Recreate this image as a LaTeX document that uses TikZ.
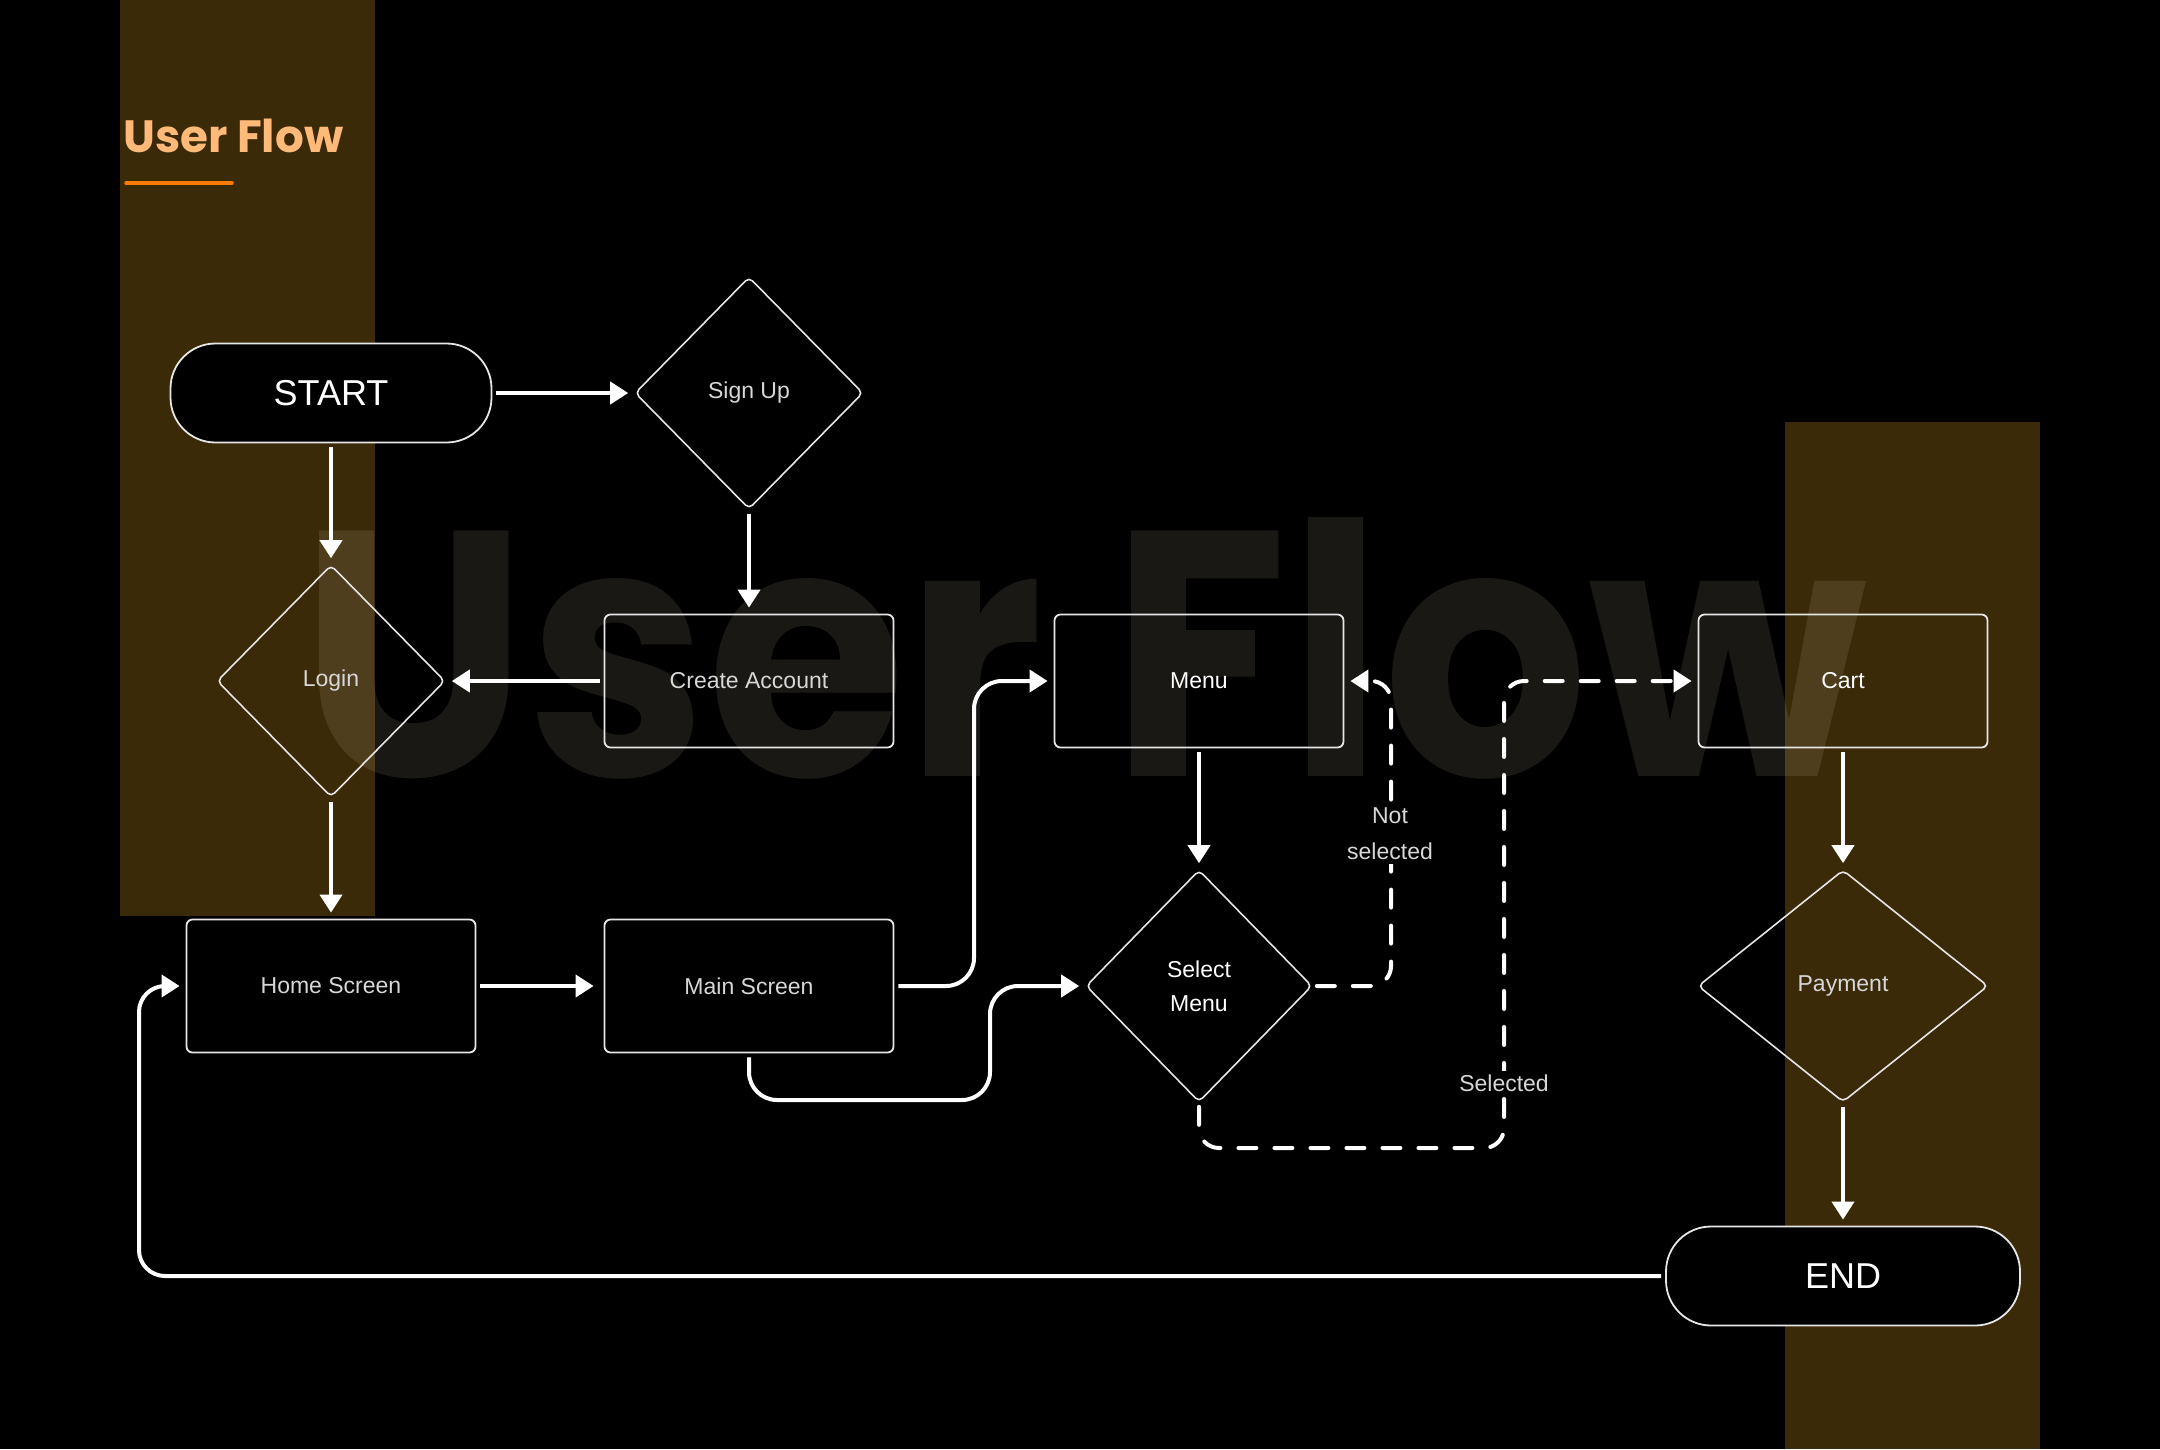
\documentclass[tikz,border=0pt]{standalone}
\usepackage{fontspec}
\setmainfont{Liberation Sans}
\newfontfamily\popfont{Poppins}
\usetikzlibrary{arrows.meta,shapes.geometric,calc}
\definecolor{band}{RGB}{58,42,8}
\definecolor{ttl}{RGB}{255,185,120}
\definecolor{uline}{RGB}{255,122,0}
\definecolor{bord}{RGB}{230,230,230}
\definecolor{lbl}{RGB}{215,215,215}
\definecolor{wmc}{RGB}{255,245,215}
\begin{document}
\begin{tikzpicture}[x=1pt,y=-1pt,
  box/.style={draw=bord, line width=1.8pt, rounded corners=6pt, minimum width=289pt, minimum height=133pt, inner sep=0pt, text=lbl, font=\fontsize{23}{34}\selectfont, align=center},
  dia/.style={diamond, draw=bord, line width=1.6pt, rounded corners=5pt, minimum width=228pt, minimum height=232pt, inner sep=0pt, text=lbl, font=\fontsize{23}{34}\selectfont, align=center},
  term/.style={draw=bord, fill=black, line width=1.8pt, rounded corners=45pt, minimum height=99pt, inner sep=0pt, text=white, font=\fontsize{36}{40}\selectfont},
  conn/.style={draw=white, line width=4pt, -{Triangle[length=18pt,width=22pt]}, shorten <=4pt, shorten >=6pt},
  dconn/.style={conn, dash pattern=on 18pt off 18pt, line cap=round},
  elabel/.style={fill=black, text=lbl, font=\fontsize{23}{36}\selectfont, align=center, inner sep=4pt}
]
% background and bands
\fill[black] (0,0) rectangle (2160,1449);
\useasboundingbox (0,0) rectangle (2160,1449);
\fill[band] (120,0) rectangle (375,916);
\fill[band] (1785,422) rectangle (2040,1449);
% watermark
\node[anchor=base west, inner sep=0pt, text=wmc, text opacity=0.1] (wm) at (300,776)
  {\resizebox{1567pt}{258pt}{\popfont\bfseries User Flow}};
% title
\node[anchor=base west, inner sep=0pt, text=ttl] (title) at (123,152)
  {\resizebox{220pt}{!}{\popfont\bfseries User Flow}};
\draw[uline, line width=3.5pt, line cap=round] (126,183) -- (232,183);

% nodes
\node[term, minimum width=321pt] (start) at (331,393) {START};
\node[dia] (signup) at (749,393) {Sign Up};
\node[dia] (login) at (331,681) {Login};
\node[box] (create) at (749,681) {Create Account};
\node[box, text=white] (menu) at (1199,681) {Menu};
\node[box, text=white] (cart) at (1843,681) {Cart};
\node[box] (home) at (331,986) {Home Screen};
\node[box] (main) at (749,986) {Main Screen};
\node[dia, minimum width=226pt, text=white] (sel) at (1199,986) {Select\\Menu};
\node[dia, minimum width=290pt] (pay) at (1843,986) {Payment};
\node[term, minimum width=354pt] (end) at (1843,1276) {END};

% helper coordinates
\coordinate (mb) at (990,1100);
\coordinate (ns) at (1391,681);
\coordinate (sb) at (1504,1148);
\coordinate (lp) at (139,986);

% connectors
\draw[conn] (start.east) -- (signup.west);
\draw[conn] (start.south) -- (login.north);
\draw[conn] (signup.south) -- (create.north);
\draw[conn] (create.west) -- (login.east);
\draw[conn] (login.south) -- (home.north);
\draw[conn, shorten >=10pt] (home.east) -- (main.west);
\draw[conn, rounded corners=28pt] (main.east) -| ($(main.east)!0.5!(menu.west)$) |- (menu.west);
\draw[conn, rounded corners=28pt] (main.south) |- (mb) |- (sel.west);
\draw[conn] (menu.south) -- (sel.north);
\draw[dconn, rounded corners=20pt] (sel.east) -| (ns) -- (menu.east);
\draw[dconn, rounded corners=20pt] (sel.south) |- (sb) |- (cart.west);
\draw[conn] (cart.south) -- (pay.north);
\draw[conn] (pay.south) -- (end.north);
\draw[conn, rounded corners=26pt] (end.west) -| (lp) -- (home.west);

% edge labels
\node[elabel] (notsel) at (1390,834) {Not\\selected};
\node[elabel] (selected) at (1504,1083) {Selected};
\end{tikzpicture}
\end{document}
